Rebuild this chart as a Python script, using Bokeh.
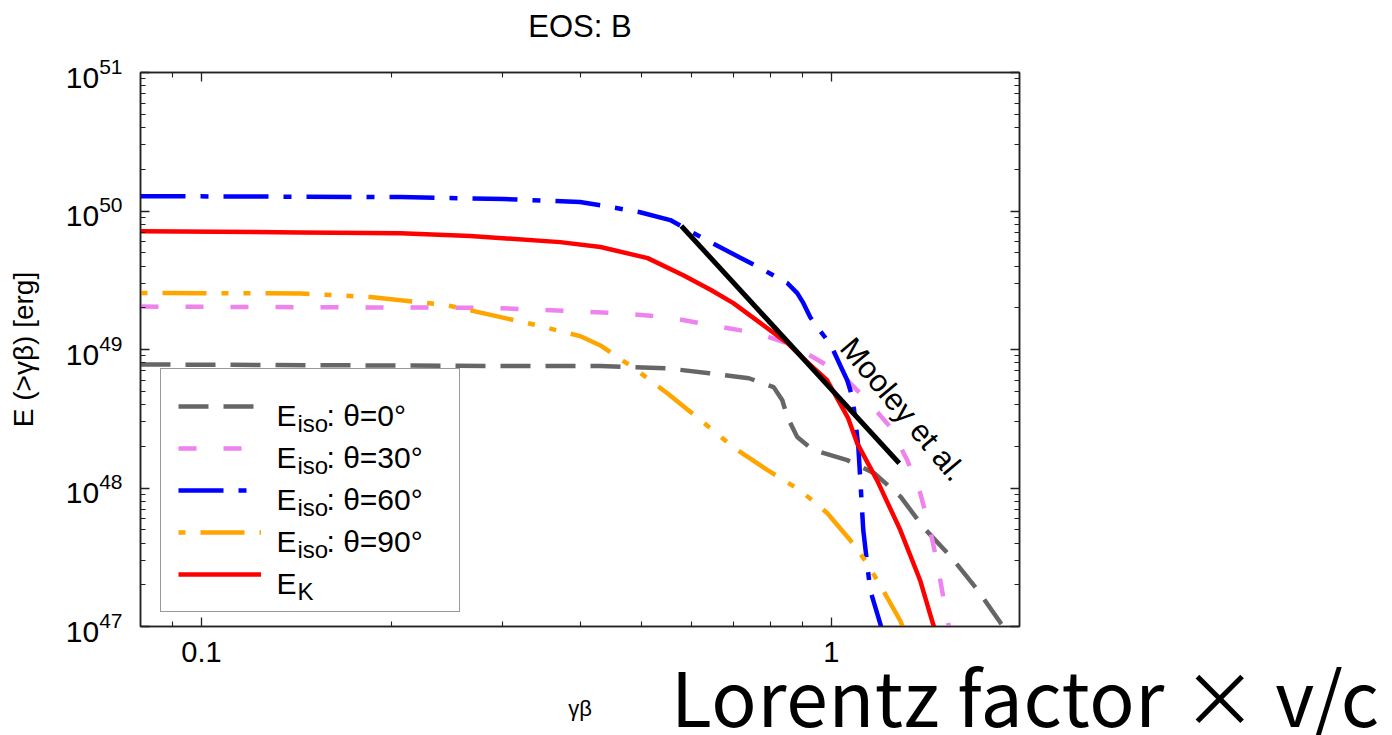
from bokeh.plotting import figure
from bokeh.layouts import column
from bokeh.models import (LogAxis, FixedTicker, CustomJSTickFormatter, LogTickFormatter,
                          Legend, LegendItem, Label, Range1d, Div)
from bokeh.embed import file_html
from bokeh.resources import INLINE

# ---------------- data ----------------
gray_x = [0.08, 0.30, 0.43, 0.55, 0.64, 0.74, 0.81, 0.836, 0.852, 0.883, 0.936,
          1.06, 1.17, 1.29, 1.40, 1.55, 1.71, 1.86, 1.95]
gray_E = [7.8e48, 7.6e48, 7.6e48, 7.3e48, 6.75e48, 6.2e48, 5.35e48, 4.3e48, 3.24e48,
          2.33e48, 1.88e48, 1.59e48, 1.28e48, 8.6e47, 5.2e47, 3.17e47, 1.82e47,
          1.05e47, 0.8e47]

pink_x = [0.08, 0.29, 0.458, 0.549, 0.643, 0.763, 0.852, 0.936, 1.033, 1.14, 1.241,
          1.32, 1.384, 1.436, 1.473, 1.506, 1.534, 1.56]
pink_E = [2.04e49, 2.0e49, 1.83e49, 1.71e49, 1.50e49, 1.31e49, 1.11e49, 8.8e48,
          6.76e48, 4.3e48, 2.75e48, 1.59e48, 9.2e47, 4.95e47, 2.86e47, 1.63e47,
          1.05e47, 0.7e47]

blue_x = [0.08, 0.207, 0.302, 0.399, 0.43, 0.497, 0.555, 0.62, 0.717, 0.772, 0.821,
          0.852, 0.883, 0.903, 0.926, 0.95, 0.985, 1.007, 1.033, 1.06, 1.08, 1.092,
          1.104, 1.112, 1.124, 1.153, 1.196, 1.21]
blue_E = [1.28e50, 1.26e50, 1.22e50, 1.16e50, 1.10e50, 9.8e49, 8.6e49, 6.5e49, 4.6e49,
          3.87e49, 3.3e49, 3.01e49, 2.55e49, 2.16e49, 1.71e49, 1.45e49, 1.17e49,
          9.9e48, 7.7e48, 6.0e48, 4.54e48, 3.09e48, 1.97e48, 1.14e48, 4.97e47,
          1.83e47, 1.05e47, 0.85e47]

orange_x = [0.08, 0.1436, 0.1854, 0.2202, 0.245, 0.289, 0.34, 0.399, 0.43, 0.456,
            0.485, 0.549, 0.62, 0.699, 0.791, 0.893, 0.985, 1.072, 1.14, 1.209,
            1.287, 1.31]
orange_E = [2.56e49, 2.54e49, 2.39e49, 2.2e49, 2.09e49, 1.77e49, 1.5e49, 1.25e49,
            1.07e49, 8.9e48, 7.4e48, 4.83e48, 3.09e48, 1.97e48, 1.35e48, 9.6e47,
            6.6e47, 4.2e47, 2.86e47, 1.82e47, 1.1e47, 0.9e47]

red_x = [0.08, 0.1436, 0.207, 0.267, 0.371, 0.43, 0.511, 0.582, 0.643, 0.699, 0.772,
         0.852, 0.913, 0.985, 1.064, 1.10, 1.183, 1.287, 1.384, 1.45, 1.48]
red_E = [7.15e49, 7.0e49, 6.9e49, 6.6e49, 5.96e49, 5.5e49, 4.57e49, 3.44e49, 2.7e49,
         2.16e49, 1.55e49, 1.11e49, 8.2e48, 6.0e48, 3.18e48, 2.09e48, 1.13e48,
         4.97e47, 2.15e47, 1.05e47, 0.8e47]

mooley_x = [0.578, 1.282]
mooley_E = [7.8e49, 1.51e48]

x_major_ticks = [0.1, 1]
x_minor_ticks = [0.09, 0.2, 0.3, 0.4, 0.5, 0.6, 0.7, 0.8, 0.9, 2]
y_major_ticks = [1e47, 1e48, 1e49, 1e50, 1e51]
y_minor_ticks = [m * 10.0 ** e for e in range(47, 51) for m in range(2, 10)]

legend_main = ["E", "E", "E", "E", "E"]
legend_sub = ["iso", "iso", "iso", "iso", "K"]
legend_rest = [": \u03b8=0\u00b0", ": \u03b8=30\u00b0", ": \u03b8=60\u00b0", ": \u03b8=90\u00b0", ""]

title_text = "EOS: B"
x_label = "\u03b3\u03b2"
y_label = "E (>\u03b3\u03b2) [erg]"
mooley_text = "Mooley et al."
big_text = "Lorentz factor \u00d7 v/c"

# ---------------- layout ----------------
W, H = 1392, 735
FL, FR, FT, FB = 140, 1019, 72, 626
FONT = "Liberation Sans"
AX = "#222222"

p = figure(width=W, height=H, x_axis_type="log", y_axis_type="log",
           x_range=Range1d(0.08, 1.99), y_range=Range1d(1e47, 1e51),
           output_backend="svg", toolbar_location=None,
           min_border_left=FL, min_border_right=W - FR,
           min_border_top=FT, min_border_bottom=H - FB)
p.grid.visible = False
p.outline_line_color = AX
p.outline_line_width = 1.5
p.background_fill_color = "white"
p.border_fill_color = "white"

xt = FixedTicker(ticks=x_major_ticks, minor_ticks=x_minor_ticks)
yt = FixedTicker(ticks=y_major_ticks, minor_ticks=y_minor_ticks)


def style_axis(ax, show_labels, size="29px"):
    ax.axis_line_color = AX
    ax.axis_line_width = 1.5
    ax.major_tick_line_color = AX
    ax.minor_tick_line_color = AX
    ax.major_tick_line_width = 1.3
    ax.minor_tick_line_width = 1.1
    ax.major_tick_in = 9
    ax.major_tick_out = 0
    ax.minor_tick_in = 5
    ax.minor_tick_out = 0
    ax.major_label_text_font = FONT
    ax.major_label_text_color = "black"
    ax.axis_label_text_font = FONT
    ax.axis_label_text_font_style = "normal"
    ax.axis_label_text_color = "black"
    if show_labels:
        ax.major_label_text_font_size = size
    else:
        ax.major_label_text_font_size = "1px"
        ax.major_label_text_alpha = 0.0
        ax.major_label_standoff = 0


xa = p.xaxis[0]
xa.ticker = xt
xa.formatter = CustomJSTickFormatter(code="return tick.toString();")
style_axis(xa, True, "29px")
xa.major_label_standoff = 15
xa.axis_label = x_label
xa.axis_label_text_font_size = "22px"
xa.axis_label_standoff = 31

ya = p.yaxis[0]
ya.ticker = yt
ya.formatter = LogTickFormatter()
style_axis(ya, True, "30px")
ya.major_label_standoff = 18
ya.axis_label = y_label
ya.axis_label_text_font_size = "28px"
ya.axis_label_standoff = 24

# top axis: mirror ticks, carries the panel title as its label
top = LogAxis(ticker=xt, formatter=CustomJSTickFormatter(code="return tick.toString();"))
style_axis(top, False)
top.axis_label = title_text
top.axis_label_text_font_size = "31px"
top.axis_label_standoff = 29
p.add_layout(top, "above")

right = LogAxis(ticker=yt, formatter=LogTickFormatter())
style_axis(right, False)
p.add_layout(right, "right")

LW = 4.5
r_gray = p.line(gray_x, gray_E, line_color="#666666", line_width=LW, line_dash="30 15")
r_pink = p.line(pink_x, pink_E, line_color="#EE82EE", line_width=LW, line_dash="18 27")
r_blue = p.line(blue_x, blue_E, line_color="#0000FF", line_width=LW, line_dash="45 15 8 15")
r_orange = p.line(orange_x, orange_E, line_color="#FFA500", line_width=LW,
                  line_dash="7 15 44 15 7 15")
r_red = p.line(red_x, red_E, line_color="#FF0000", line_width=LW)
p.line(mooley_x, mooley_E, line_color="black", line_width=5)

p.add_layout(Label(x=1.30, y=3.7e48, text=mooley_text, angle=-0.873,
                   text_align="center", text_baseline="middle",
                   text_font=FONT, text_font_size="31px", text_color="black"))

renderers = [r_gray, r_pink, r_blue, r_orange, r_red]
legend = Legend(items=[LegendItem(label="\u00a0", renderers=[r]) for r in renderers],
                location=(160 - FL, FB - 612),
                glyph_width=83, glyph_height=40, label_height=40, label_width=163,
                label_standoff=18, spacing=2, padding=17, margin=0,
                label_text_font_size="13px",
                border_line_color="#333333", border_line_width=1.5,
                background_fill_alpha=0.0)
p.add_layout(legend)


def canvas_label(fig, x, y, text, size, font=FONT, align="left"):
    fig.add_layout(Label(x=x, y=y, x_units="canvas", y_units="canvas", text=text,
                         text_font=font, text_font_size=size, text_align=align,
                         text_baseline="alphabetic", text_color="black", level="overlay"))


for i in range(len(legend_main)):
    c = 409 + 42 * i  # canvas y of the item centre (from the top)
    canvas_label(p, 276, c + 6, legend_main[i], "30px")
    canvas_label(p, 297, c + 14, legend_sub[i], "24px")
    if legend_rest[i]:
        canvas_label(p, 326, c + 6, legend_rest[i], "30px")

# large annotation under the plot, overlaid on the bottom-right corner
OX, OY = 671, 657
note = Div(text=('<span style="font-family:\'Noto Sans CJK JP\';font-size:75px;'
                 'line-height:1;white-space:nowrap;letter-spacing:0.6px;color:black">'
                 + big_text + '</span>'),
           width=W - OX, height=H - OY, margin=(-(H - OY), 0, 0, OX))

layout = column(p, note, spacing=0)
open("out.html", "w").write(file_html(layout, INLINE))
